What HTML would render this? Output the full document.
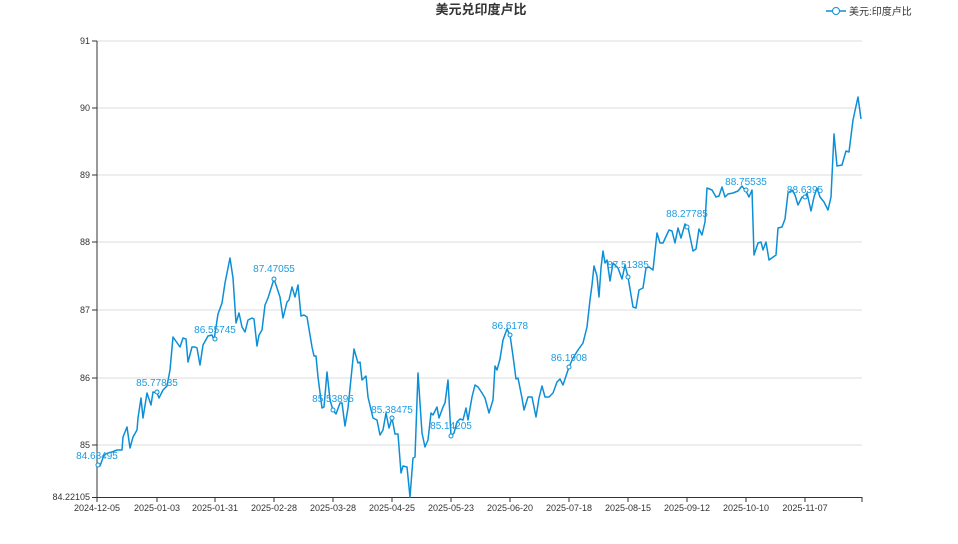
<!DOCTYPE html>
<html><head><meta charset="utf-8"><style>
body{margin:0;background:#fff;}
svg text{font-family:"Liberation Sans","Noto Sans CJK SC",sans-serif;}
</style></head><body>
<svg width="958" height="539" xmlns="http://www.w3.org/2000/svg">
<text x="481" y="14" text-anchor="middle" font-size="13" font-weight="bold" fill="#333">美元兑印度卢比</text>
<line x1="826" y1="11" x2="846" y2="11" stroke="#0c8fd6" stroke-width="1.5"/>
<circle cx="836" cy="11" r="3.5" fill="#fff" stroke="#0c8fd6"/>
<text x="849" y="15" font-size="10" fill="#333">美元:印度卢比</text>
<g stroke="#ddd" stroke-width="1">
<line x1="97" y1="41" x2="862" y2="41"/><line x1="97" y1="108" x2="862" y2="108"/>
<line x1="97" y1="175" x2="862" y2="175"/><line x1="97" y1="242" x2="862" y2="242"/>
<line x1="97" y1="310" x2="862" y2="310"/><line x1="97" y1="378" x2="862" y2="378"/>
<line x1="97" y1="445" x2="862" y2="445"/>
</g>
<g stroke="#333" stroke-width="1">
<line x1="97" y1="41" x2="97" y2="497.5"/><line x1="97" y1="497.5" x2="862" y2="497.5"/>
<line x1="92" y1="41" x2="97" y2="41"/><line x1="92" y1="108" x2="97" y2="108"/><line x1="92" y1="175" x2="97" y2="175"/><line x1="92" y1="242" x2="97" y2="242"/><line x1="92" y1="310" x2="97" y2="310"/><line x1="92" y1="378" x2="97" y2="378"/><line x1="92" y1="445" x2="97" y2="445"/><line x1="92" y1="497.5" x2="97" y2="497.5"/>
<line x1="97" y1="497" x2="97" y2="502"/><line x1="157" y1="497" x2="157" y2="502"/><line x1="215" y1="497" x2="215" y2="502"/><line x1="274" y1="497" x2="274" y2="502"/><line x1="333" y1="497" x2="333" y2="502"/><line x1="392" y1="497" x2="392" y2="502"/><line x1="451" y1="497" x2="451" y2="502"/><line x1="510" y1="497" x2="510" y2="502"/><line x1="569" y1="497" x2="569" y2="502"/><line x1="628" y1="497" x2="628" y2="502"/><line x1="687" y1="497" x2="687" y2="502"/><line x1="746" y1="497" x2="746" y2="502"/><line x1="805" y1="497" x2="805" y2="502"/><line x1="862" y1="497" x2="862" y2="502"/>
</g>
<g font-size="9" fill="#333" text-anchor="end">
<text x="90" y="44">91</text><text x="90" y="111">90</text><text x="90" y="178">89</text><text x="90" y="245">88</text><text x="90" y="313">87</text><text x="90" y="381">86</text><text x="90" y="448">85</text><text x="90" y="500">84.22105</text>
</g>
<g font-size="9" fill="#333" text-anchor="middle">
<text x="97" y="511">2024-12-05</text><text x="157" y="511">2025-01-03</text><text x="215" y="511">2025-01-31</text><text x="274" y="511">2025-02-28</text><text x="333" y="511">2025-03-28</text><text x="392" y="511">2025-04-25</text><text x="451" y="511">2025-05-23</text><text x="510" y="511">2025-06-20</text><text x="569" y="511">2025-07-18</text><text x="628" y="511">2025-08-15</text><text x="687" y="511">2025-09-12</text><text x="746" y="511">2025-10-10</text><text x="805" y="511">2025-11-07</text>
</g>
<polyline fill="none" stroke="#0c8fd6" stroke-width="1.5" stroke-linejoin="round" points="97,465 100,466 104,455 108,453 112,452 117,450 122,450 123,437 127,427 130,448 133,437 137,430 138,418 141,398 143,418 147,393 151,405 153,392 157,393 159,398 163,390 167,386 170,370 173,337 180,347 183,338 186,339 188,362 192,347 195,347 197,348 200,365 203,345 208,336 212,335 214,340 218,314 222,303 225,283 230,258 233,278 236,323 239,313 242,327 245,332 248,320 252,318 254,319 257,346 259,335 262,330 265,305 268,298 274,279 280,297 283,318 287,302 289,300 292,287 295,297 298,285 301,316 304,315 307,317 312,347 314,356 316,356 318,377 322,408 324,407 327,372 330,400 333,410 336,414 340,403 342,403 345,426 348,408 354,349 358,363 360,362 362,380 366,376 368,397 373,418 377,420 380,435 383,430 386,413 389,428 392,418 395,434 398,434 401,473 403,466 407,467 410,497 413,458 415,457 418,373 422,433 425,447 428,440 431,413 433,415 437,407 439,418 443,407 445,403 448,380 451,436 454,433 457,422 460,419 463,420 466,408 468,420 472,397 475,385 478,387 482,393 485,398 489,413 493,400 495,366 497,370 500,359 503,340 507,329 510,335 513,356 516,379 518,378 522,398 524,410 528,397 532,397 536,417 539,398 542,386 545,397 549,397 553,393 557,382 560,379 563,385 567,373 569,367 573,358 578,350 583,343 587,327 590,300 592,285 594,266 597,276 599,297 601,268 603,251 605,263 607,260 610,281 613,263 618,268 622,279 625,265 628,277 633,307 636,308 639,290 643,288 646,268 649,267 653,270 657,233 660,243 663,243 669,230 672,231 675,243 678,228 681,238 685,224 688,227 693,251 696,249 699,229 702,235 705,222 707,188 712,190 716,197 719,196 722,187 725,197 728,194 733,193 738,191 742,186 747,193 749,197 752,190 754,255 758,243 761,242 763,250 766,242 769,260 776,255 778,228 782,227 785,219 788,193 792,190 795,195 798,205 802,197 805,197 807,193 811,211 814,197 817,188 820,197 824,202 828,210 831,197 834,134 837,166 842,165 846,151 849,152 853,120 858,97 861,119"/>
<g fill="#fff" stroke="#0c8fd6" stroke-width="1">
<circle cx="98" cy="465" r="2"/><circle cx="157" cy="392" r="2"/><circle cx="215" cy="339" r="2"/><circle cx="274" cy="279" r="2"/><circle cx="333" cy="410" r="2"/><circle cx="392" cy="418" r="2"/><circle cx="451" cy="436" r="2"/><circle cx="510" cy="335" r="2"/><circle cx="569" cy="367" r="2"/><circle cx="628" cy="277" r="2"/><circle cx="687" cy="227" r="2"/><circle cx="746" cy="190" r="2"/><circle cx="805" cy="197" r="2"/>
</g>
<g font-size="10" fill="#1e9be0" text-anchor="middle">
<text x="97" y="459">84.68495</text><text x="157" y="386">85.77835</text><text x="215" y="333">86.55745</text><text x="274" y="272">87.47055</text><text x="333" y="402">85.53895</text><text x="392" y="413">85.38475</text><text x="451" y="429">85.14205</text><text x="510" y="329">86.6178</text><text x="569" y="361">86.1908</text><text x="628" y="268">87.51385</text><text x="687" y="217">88.27785</text><text x="746" y="185">88.75535</text><text x="805" y="193">88.6395</text>
</g>
</svg>
</body></html>
